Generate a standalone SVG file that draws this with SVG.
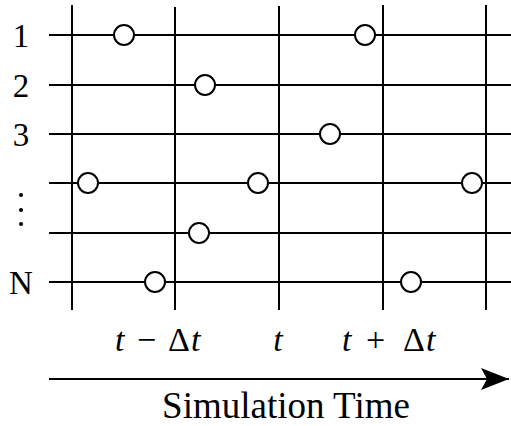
<svg xmlns="http://www.w3.org/2000/svg" width="511" height="426" viewBox="0 0 511 426">
<defs>
<style>
.ln{stroke:#000;stroke-width:2;fill:none}
.pt{stroke:#000;stroke-width:2;fill:#fff}
.tx{font-family:"Liberation Serif","DejaVu Serif",serif;font-size:33px;fill:#000}
.tl{font-size:34px}
.ttl{font-size:37px}
.it{font-style:italic}
</style>
<marker id="ah" markerWidth="30" markerHeight="24" refX="28" refY="11" orient="auto" markerUnits="userSpaceOnUse">
<path d="M0,0 L28,11 L0,22 L6,11 Z" fill="#000"/>
</marker>
</defs>
<g id="connectors">
<g id="verticals">
<line class="ln" x1="72" y1="5" x2="72" y2="310"/>
<line class="ln" x1="175" y1="7" x2="175" y2="310"/>
<line class="ln" x1="279" y1="6" x2="279" y2="310"/>
<line class="ln" x1="383" y1="5" x2="383" y2="310"/>
<line class="ln" x1="486" y1="5" x2="486" y2="310"/>
</g>
<g id="horizontals">
<line class="ln" x1="49" y1="35" x2="511" y2="35"/>
<line class="ln" x1="49" y1="85" x2="511" y2="85"/>
<line class="ln" x1="49" y1="134" x2="511" y2="134"/>
<line class="ln" x1="49" y1="183" x2="511" y2="183"/>
<line class="ln" x1="49" y1="233" x2="511" y2="233"/>
<line class="ln" x1="49" y1="282" x2="511" y2="282"/>
</g>
<line id="time-arrow" class="ln" x1="49" y1="379" x2="509" y2="379" marker-end="url(#ah)"/>
</g>
<g id="events">
<circle class="pt" cx="124" cy="35" r="10"/>
<circle class="pt" cx="365" cy="35" r="10"/>
<circle class="pt" cx="205" cy="85" r="10"/>
<circle class="pt" cx="330" cy="134" r="10"/>
<circle class="pt" cx="88" cy="183" r="10"/>
<circle class="pt" cx="258" cy="183" r="10"/>
<circle class="pt" cx="472" cy="183" r="10"/>
<circle class="pt" cx="199" cy="233" r="10"/>
<circle class="pt" cx="155" cy="282" r="10"/>
<circle class="pt" cx="411" cy="282" r="10"/>
</g>
<g id="row-labels">
<text class="tx" x="21" y="47" text-anchor="middle">1</text>
<text class="tx" x="21" y="97" text-anchor="middle">2</text>
<text class="tx" x="21" y="146" text-anchor="middle">3</text>
<g id="vdots" fill="#000">
<circle cx="21" cy="195" r="2"/>
<circle cx="21" cy="210" r="2"/>
<circle cx="21" cy="224" r="2"/>
</g>
<text class="tx" x="21" y="294" text-anchor="middle">N</text>
</g>
<g id="time-labels">
<text class="tx tl" y="351"><tspan class="it" x="115">t</tspan><tspan x="137">−</tspan><tspan x="168">Δ</tspan><tspan class="it" x="191">t</tspan></text>
<text class="tx tl it" x="278" y="351" text-anchor="middle">t</text>
<text class="tx tl" y="351"><tspan class="it" x="342">t</tspan><tspan x="366">+</tspan><tspan x="403">Δ</tspan><tspan class="it" x="426">t</tspan></text>
</g>
<text id="axis-title" class="tx ttl" x="286" y="418" text-anchor="middle">Simulation Time</text>
</svg>
